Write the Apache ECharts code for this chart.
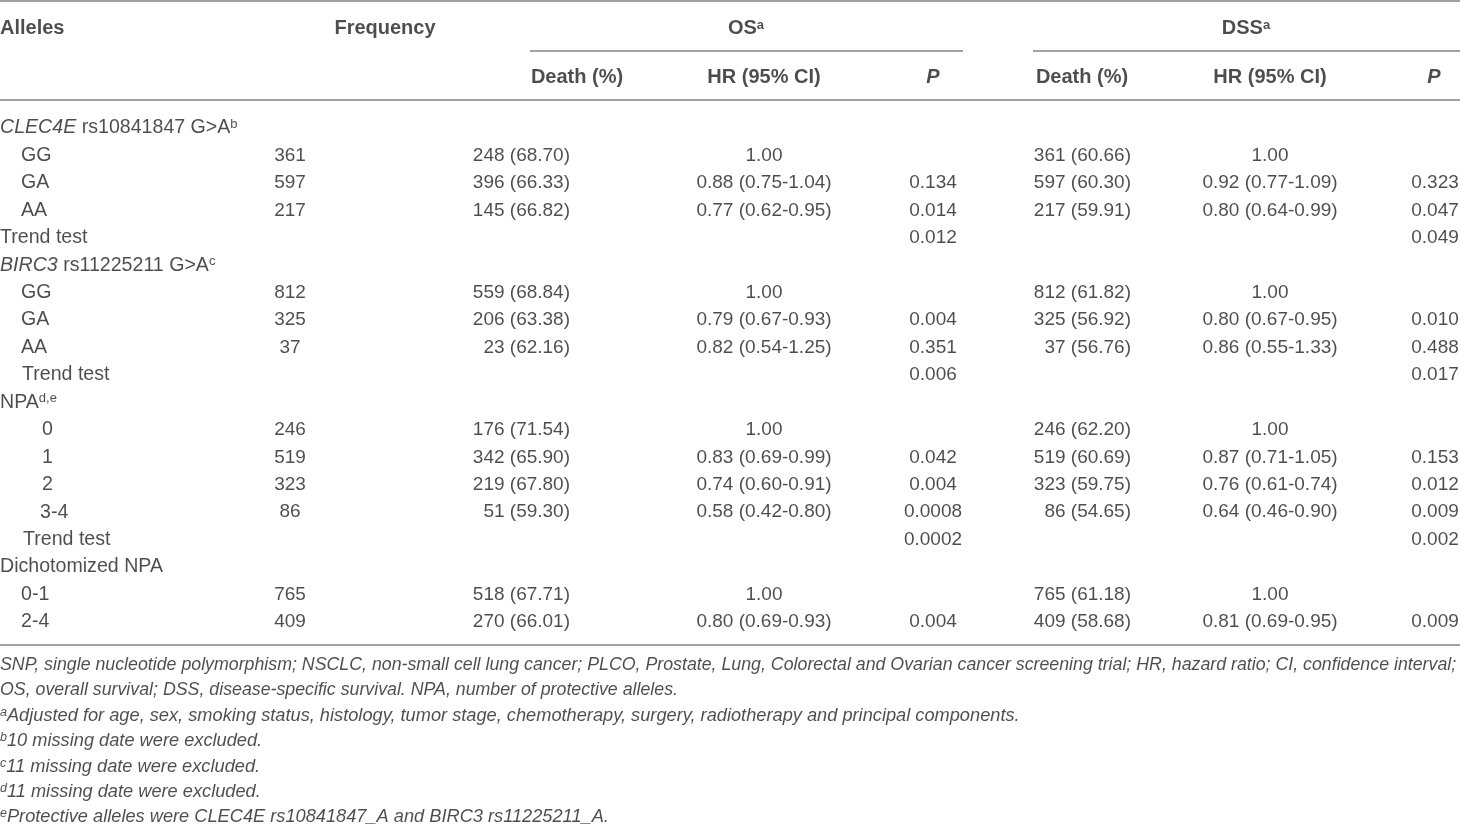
<!DOCTYPE html>
<html>
<head>
<meta charset="utf-8">
<script src="https://cdn.jsdelivr.net/npm/echarts@6/dist/echarts.min.js"></script>
<style>
html,body{margin:0;padding:0;background:#fff;}
#chart{width:1460px;height:830px;}
</style>
</head>
<body>
<div id="chart"></div>
<script>
// ---------------- DATA ----------------
const headerRow1 = ['Alleles', 'Frequency', 'OS{sup|a}', 'DSS{sup|a}'];
const headerRow2 = ['Death (%)', 'HR (95% CI)', '{it|P}', 'Death (%)', 'HR (95% CI)', '{it|P}'];

const rowLabels = [
  '{i|CLEC4E} rs10841847 G>A{sup|b}', 'GG', 'GA', 'AA', 'Trend test',
  '{i|BIRC3} rs11225211 G>A{sup|c}', 'GG', 'GA', 'AA', 'Trend test',
  'NPA{sup|d,e}', '0', '1', '2', '3-4', 'Trend test',
  'Dichotomized NPA', '0-1', '2-4'
];
const frequency = ['', '361', '597', '217', '', '', '812', '325', '37', '', '', '246', '519', '323', '86', '', '', '765', '409'];
const osDeath = ['', '248 (68.70)', '396 (66.33)', '145 (66.82)', '', '', '559 (68.84)', '206 (63.38)', '23 (62.16)', '', '',
  '176 (71.54)', '342 (65.90)', '219 (67.80)', '51 (59.30)', '', '', '518 (67.71)', '270 (66.01)'];
const osHR = ['', '1.00', '0.88 (0.75-1.04)', '0.77 (0.62-0.95)', '', '', '1.00', '0.79 (0.67-0.93)', '0.82 (0.54-1.25)', '', '',
  '1.00', '0.83 (0.69-0.99)', '0.74 (0.60-0.91)', '0.58 (0.42-0.80)', '', '', '1.00', '0.80 (0.69-0.93)'];
const osP = ['', '', '0.134', '0.014', '0.012', '', '', '0.004', '0.351', '0.006', '', '',
  '0.042', '0.004', '0.0008', '0.0002', '', '', '0.004'];
const dssDeath = ['', '361 (60.66)', '597 (60.30)', '217 (59.91)', '', '', '812 (61.82)', '325 (56.92)', '37 (56.76)', '', '',
  '246 (62.20)', '519 (60.69)', '323 (59.75)', '86 (54.65)', '', '', '765 (61.18)', '409 (58.68)'];
const dssHR = ['', '1.00', '0.92 (0.77-1.09)', '0.80 (0.64-0.99)', '', '', '1.00', '0.80 (0.67-0.95)', '0.86 (0.55-1.33)', '', '',
  '1.00', '0.87 (0.71-1.05)', '0.76 (0.61-0.74)', '0.64 (0.46-0.90)', '', '', '1.00', '0.81 (0.69-0.95)'];
const dssP = ['', '', '0.323', '0.047', '0.049', '', '', '0.010', '0.488', '0.017', '', '',
  '0.153', '0.012', '0.009', '0.002', '', '', '0.009'];

const footnotes = [
  'SNP, single nucleotide polymorphism; NSCLC, non-small cell lung cancer; PLCO, Prostate, Lung, Colorectal and Ovarian cancer screening trial; HR, hazard ratio; CI, confidence interval;',
  'OS, overall survival; DSS, disease-specific survival. NPA, number of protective alleles.',
  '{sup|a}Adjusted for age, sex, smoking status, histology, tumor stage, chemotherapy, surgery, radiotherapy and principal components.',
  '{sup|b}10 missing date were excluded.',
  '{sup|c}11 missing date were excluded.',
  '{sup|d}11 missing date were excluded.',
  '{sup|e}Protective alleles were CLEC4E rs10841847_A and BIRC3 rs11225211_A.'
];

// ---------------- LAYOUT / STYLE ----------------
const W = 1460, H = 830;
const FONT = "'Liberation Sans', Arial, Helvetica, sans-serif";
const TEXT = '#231f20';
const RULE = '#a3a3a3';
const FS_NUM = 19;     // numbers
const FS_LBL = 19.6;   // row labels
const FS_HEAD = 20;    // bold headers
const VOFF = 1.5;      // vertical nudge

// column anchors (x) and alignment
const header1Cols = [{x: 0, a: 'left'}, {x: 385, a: 'center'}, {x: 746, a: 'center'}, {x: 1246, a: 'center'}];
const header2Cols = [{x: 577, a: 'center'}, {x: 764, a: 'center'}, {x: 933, a: 'center'},
                     {x: 1082, a: 'center'}, {x: 1270, a: 'center'}, {x: 1434, a: 'center'}];
const alleleIndent = [0, 21, 21, 21, 0, 0, 21, 21, 21, 22, 0, 42, 42, 42, 40, 23, 0, 21, 21];
const bodyCols = [
  {arr: frequency, x: 290, a: 'center'},
  {arr: osDeath, x: 570, a: 'right'},
  {arr: osHR, x: 764, a: 'center'},
  {arr: osP, x: 933, a: 'center'},
  {arr: dssDeath, x: 1131, a: 'right'},
  {arr: dssHR, x: 1270, a: 'center'},
  {arr: dssP, x: 1435, a: 'center'}
];

// footnote font size fitted so first line spans the width
function fitFootSize() {
  const c = document.createElement('canvas').getContext('2d');
  c.font = 'italic 17px ' + FONT;
  const w = c.measureText(footnotes[0]).width;
  return Math.min(19, 17 * 1458 / w);
}
const FFS1 = fitFootSize();
const FFS2 = FFS1 * 1.025;

function rich(size, bold, italic, supSize, supLH) {
  const fw = bold ? 'bold' : 'normal';
  const fs = italic ? 'italic' : 'normal';
  return {
    i: {fontFamily: FONT, fontSize: size, fontStyle: 'italic', fontWeight: fw, color: TEXT, lineHeight: 20},
    it: {fontFamily: FONT, fontSize: size, fontStyle: 'italic', fontWeight: 'bold', color: TEXT, lineHeight: 20},
    sup: {fontFamily: FONT, fontSize: supSize, fontStyle: fs, fontWeight: fw, color: TEXT,
          lineHeight: supLH, verticalAlign: 'top'}
  };
}

function textSeries(gridIndex, items, opt) {
  return {
    type: 'scatter',
    xAxisIndex: gridIndex, yAxisIndex: gridIndex,
    symbolSize: 0,
    silent: true,
    animation: false,
    itemStyle: {color: 'transparent'},
    data: items.map(it => ({name: it.t, value: [it.x, it.r], label: {align: it.a}})),
    label: {
      show: true,
      position: 'inside',
      verticalAlign: 'middle',
      formatter: p => p.name,
      fontFamily: FONT,
      fontSize: opt.size,
      fontWeight: opt.bold ? 'bold' : 'normal',
      fontStyle: opt.italic ? 'italic' : 'normal',
      color: TEXT,
      lineHeight: 20,
      rich: rich(opt.size, opt.bold, opt.italic, opt.supSize || 13, opt.supLH || 12)
    }
  };
}

const series = [];
// header
series.push(textSeries(0, headerRow1.map((t, k) => ({t, x: header1Cols[k].x, a: header1Cols[k].a, r: 0})),
  {size: FS_HEAD, bold: true, supSize: 13, supLH: 9}));
series.push(textSeries(0, headerRow2.map((t, k) => ({t, x: header2Cols[k].x, a: header2Cols[k].a, r: 1})),
  {size: FS_HEAD, bold: true}));
// body
series.push(textSeries(1, rowLabels.map((t, r) => ({t, x: alleleIndent[r], a: 'left', r})),
  {size: FS_LBL, supSize: 13, supLH: 11}));
bodyCols.forEach(col => {
  const items = [];
  col.arr.forEach((t, r) => { if (t !== '') items.push({t, x: col.x, a: col.a, r}); });
  series.push(textSeries(1, items, {size: FS_NUM}));
});
// footnotes (first paragraph, then the lettered notes)
series.push(textSeries(2, footnotes.slice(0, 2).map((t, r) => ({t, x: 0, a: 'left', r})),
  {size: FFS1, italic: true}));
series.push(textSeries(2, footnotes.slice(2).map((t, r) => ({t, x: 0, a: 'left', r: r + 2})),
  {size: FFS2, italic: true, supSize: 12.5, supLH: 9}));

function cat(n) { return Array.from({length: n}, (_, i) => String(i)); }

const headTop = 27, headStep = 49;
const bodyTop = 126.5, bodyStep = 27.44;
const footTop = 664, footStep = 26.0;
const grids = [
  {left: 0, right: 0, top: headTop - headStep / 2 + VOFF, height: headStep * 2},
  {left: 0, right: 0, top: bodyTop - bodyStep / 2 + VOFF, height: bodyStep * rowLabels.length},
  {left: 0, right: 0, top: footTop - footStep / 2 + VOFF, height: footStep * footnotes.length}
];
const xAxes = grids.map((g, i) => ({type: 'value', gridIndex: i, min: 0, max: W, show: false}));
const yAxes = [
  {type: 'category', gridIndex: 0, data: cat(2), inverse: true, show: false},
  {type: 'category', gridIndex: 1, data: cat(rowLabels.length), inverse: true, show: false},
  {type: 'category', gridIndex: 2, data: cat(footnotes.length), inverse: true, show: false}
];

function rule(x1, x2, y) {
  return {type: 'line', silent: true, shape: {x1, y1: y, x2, y2: y}, style: {stroke: RULE, lineWidth: 2}};
}

const chart = echarts.init(document.getElementById('chart'), null, {renderer: 'canvas'});
chart.setOption({
  animation: false,
  backgroundColor: '#ffffff',
  grid: grids,
  xAxis: xAxes,
  yAxis: yAxes,
  series: series,
  graphic: [
    rule(0, W, 1),
    rule(530, 963, 51),
    rule(1033, W, 51),
    rule(0, W, 100),
    rule(0, W, 645)
  ]
});
</script>
</body>
</html>
